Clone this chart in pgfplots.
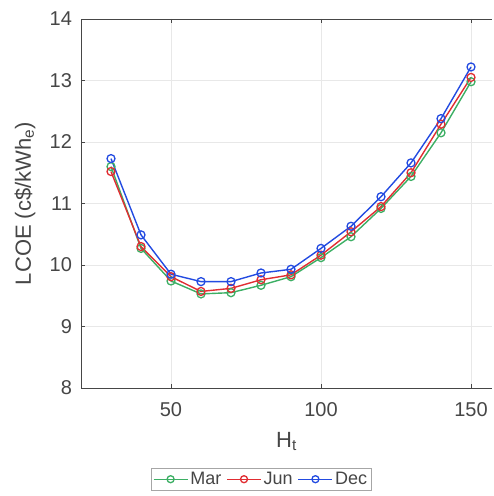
\documentclass[border=0pt]{standalone}
\usepackage{pgfplots}
\pgfplotsset{compat=1.18}
\usepackage{fontspec}
\setmainfont{Liberation Sans}
\definecolor{cmar}{RGB}{60,175,100}
\definecolor{cjun}{RGB}{225,45,50}
\definecolor{cdec}{RGB}{35,75,225}
\definecolor{axgray}{RGB}{70,70,70}
\begin{document}
\begin{tikzpicture}
\begin{axis}[
  scale only axis,
  width=411pt, height=369pt,
  xmin=20, xmax=157,
  ymin=8, ymax=14,
  xtick={50,100,150},
  ytick={8,9,10,11,12,13,14},
  axis x line*=box,
  axis y line*=left,
  axis line style={-, axgray, line width=0.6pt},
  tick align=inside,
  major tick length=4pt,
  tick style={axgray},
  grid=major,
  grid style={gray!18, line width=0.5pt},
  /pgf/number format/assume math mode=true,
  ticklabel style={font=\fontsize{20}{22}\selectfont, text=axgray},
  xticklabel style={anchor=north, yshift=-11pt},
  yticklabel style={anchor=east, xshift=-5.5pt},
  xlabel={H\textsubscript{t}},
  ylabel={LCOE (c\$/kWh\textsubscript{e})},
  every axis x label/.style={at={(rel axis cs:0.5,-0.16)}, anchor=base,
    font=\fontsize{22}{24}\selectfont, text=axgray},
  every axis y label/.style={at={(rel axis cs:-0.1363,0.5)}, anchor=center, rotate=90,
    font=\fontsize{22}{24}\selectfont, text=axgray},
  legend columns=3,
  legend style={at={(rel axis cs:0.438,-0.217)}, anchor=north,
    font=\fontsize{18}{20}\selectfont, text=axgray, draw=gray!70,
    inner sep=2pt, /tikz/every even column/.append style={column sep=3pt}},
  legend image code/.code={
    \draw[#1, mark=none] (0pt,0pt) -- (34pt,0pt);
    \draw[#1, only marks, mark size=3.5pt] plot coordinates {(17pt,0pt)};
  },
  every axis plot/.append style={line width=1.4pt, mark=o, mark size=4pt,
    mark options={fill=white, line width=1.3pt}},
]
\coordinate (sw) at (rel axis cs:0,0);
\coordinate (ne) at (rel axis cs:1,1);
\addplot[cmar] coordinates {(30,11.60) (40,10.27) (50,9.74) (60,9.53) (70,9.55) (80,9.67) (90,9.81) (100,10.12) (110,10.46) (120,10.92) (130,11.44) (140,12.15) (150,12.98)};
\addlegendentry{Mar}
\addplot[cjun] coordinates {(30,11.52) (40,10.30) (50,9.81) (60,9.57) (70,9.62) (80,9.76) (90,9.84) (100,10.16) (110,10.54) (120,10.95) (130,11.50) (140,12.29) (150,13.05)};
\addlegendentry{Jun}
\addplot[cdec] coordinates {(30,11.73) (40,10.49) (50,9.85) (60,9.73) (70,9.73) (80,9.87) (90,9.93) (100,10.27) (110,10.63) (120,11.11) (130,11.66) (140,12.38) (150,13.22)};
\addlegendentry{Dec}
\end{axis}
\pgfresetboundingbox
\useasboundingbox ([shift={(-81pt,-108pt)}]sw) rectangle ([shift={(1pt,19pt)}]ne);
\end{tikzpicture}
\end{document}
